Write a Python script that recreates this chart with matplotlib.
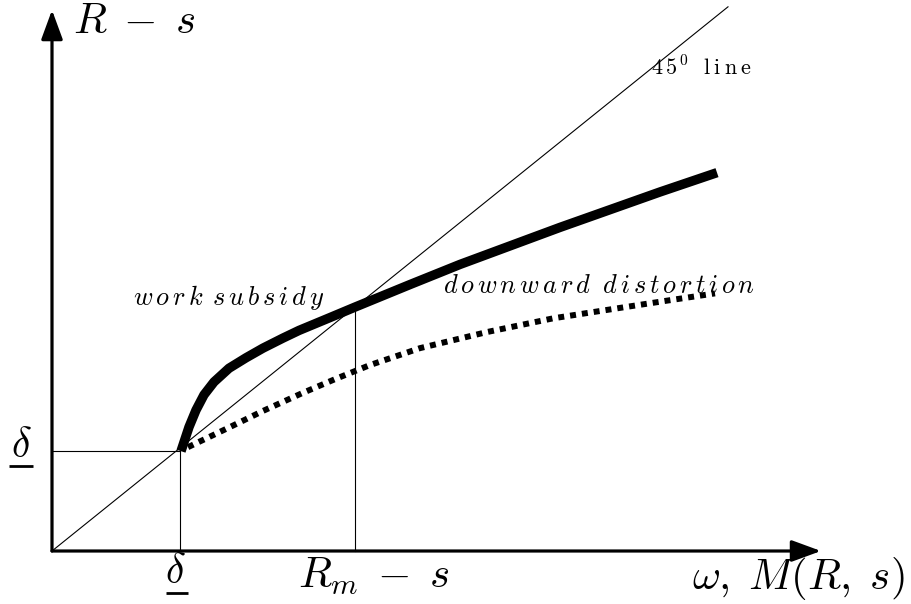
import matplotlib
matplotlib.use("Agg")
import matplotlib.pyplot as plt

plt.rcParams['mathtext.fontset'] = 'cm'
plt.rcParams['font.family'] = ['DejaVu Serif']

# ---- data (in model units; 45-degree line is y = x) ----
delta = 1.28          # the threshold delta
rm_s = 3.03           # R_m - s (where the schedule crosses the 45-degree line)

# thick curve (solid)
thick_x = [1.29, 1.37, 1.44, 1.52, 1.62, 1.77, 1.94, 2.11, 2.31, 2.47,
           2.78, 3.03, 3.58, 4.08, 5.08, 6.08, 6.65]
thick_y = [1.24, 1.54, 1.75, 1.94, 2.10, 2.27, 2.40, 2.52, 2.645, 2.74,
           2.90, 3.03, 3.31, 3.56, 4.02, 4.46, 4.70]

# dotted curve
dot_x = [1.36, 1.78, 2.11, 2.50, 2.84, 3.18, 3.68, 4.35, 5.01, 5.68, 6.15, 6.63]
dot_y = [1.29, 1.54, 1.74, 1.96, 2.14, 2.31, 2.52, 2.72, 2.89, 3.02, 3.11, 3.20]

line45_end = 6.76
x_axis_end = 7.69
y_axis_end = 6.72

fig = plt.figure(figsize=(9.12, 6.04), dpi=100)
ax = fig.add_axes([0, 0, 1, 1])
ax.set_xlim(-0.52, 8.60)
ax.set_ylim(-53 / 80.5, 551 / 80.5)
ax.axis('off')

# axes with arrows
arrow_style = '-|>,head_length=0.9,head_width=0.33'
ax.annotate('', xy=(x_axis_end, 0), xytext=(0, 0),
            arrowprops=dict(arrowstyle=arrow_style, lw=2.3, color='black',
                            mutation_scale=20, shrinkA=0, shrinkB=0))
ax.annotate('', xy=(0, y_axis_end), xytext=(0, 0),
            arrowprops=dict(arrowstyle=arrow_style, lw=2.3, color='black',
                            mutation_scale=20, shrinkA=0, shrinkB=0))

# 45 degree line
ax.plot([0, line45_end], [0, line45_end], color='black', lw=0.8)

# guide lines
ax.plot([0, delta], [thick_y[0], thick_y[0]], color='black', lw=0.8)
ax.plot([delta, delta], [0, thick_y[0]], color='black', lw=0.8)
ax.plot([rm_s, rm_s], [0, rm_s], color='black', lw=0.8)

# curves
ax.plot(thick_x, thick_y, color='black', lw=6.8, solid_capstyle='butt',
        solid_joinstyle='round')
dl, = ax.plot(dot_x, dot_y, color='black', lw=4.3, dash_capstyle='butt')
dl.set_dashes([1.0, 1.0])

# labels
ax.text(0.21, 6.58, r'$R\;-\;s$', fontsize=31, va='center', ha='left')
ax.text(5.99, 5.91, r'$4\,5^{\,0}\;\;\,\mathrm{l\:i\:n\:e}$', fontsize=16,
        va='baseline', ha='left')
ax.text(0.81, 3.06, r'$w\,o\,r\,k\;\,s\,u\,b\,s\,i\,d\,y$', fontsize=19,
        va='baseline', ha='left')
ax.text(3.91, 3.20,
        r'$d\,o\,w\,n\,w\,a\,r\,d\;\;d\,i\,s\,t\,o\,r\,t\,i\,o\,n$',
        fontsize=19, va='baseline', ha='left')

# underlined deltas
ax.text(-0.31, 1.17, r'$\delta$', fontsize=30, va='baseline', ha='center')
ax.plot([-0.43, -0.19], [1.06, 1.06], color='black', lw=2.0, solid_capstyle='butt')
ax.text(1.235, -0.40, r'$\delta$', fontsize=30, va='baseline', ha='center')
ax.plot([1.14, 1.36], [-0.52, -0.52], color='black', lw=2.0, solid_capstyle='butt')

ax.text(2.46, -0.45, r'$R_m\;-\;s$', fontsize=31, va='baseline', ha='left')
ax.text(8.53, -0.47, r'$\omega,\;M(R,\;s)$', fontsize=31, va='baseline', ha='right')

fig.savefig('out.png', dpi=100)
